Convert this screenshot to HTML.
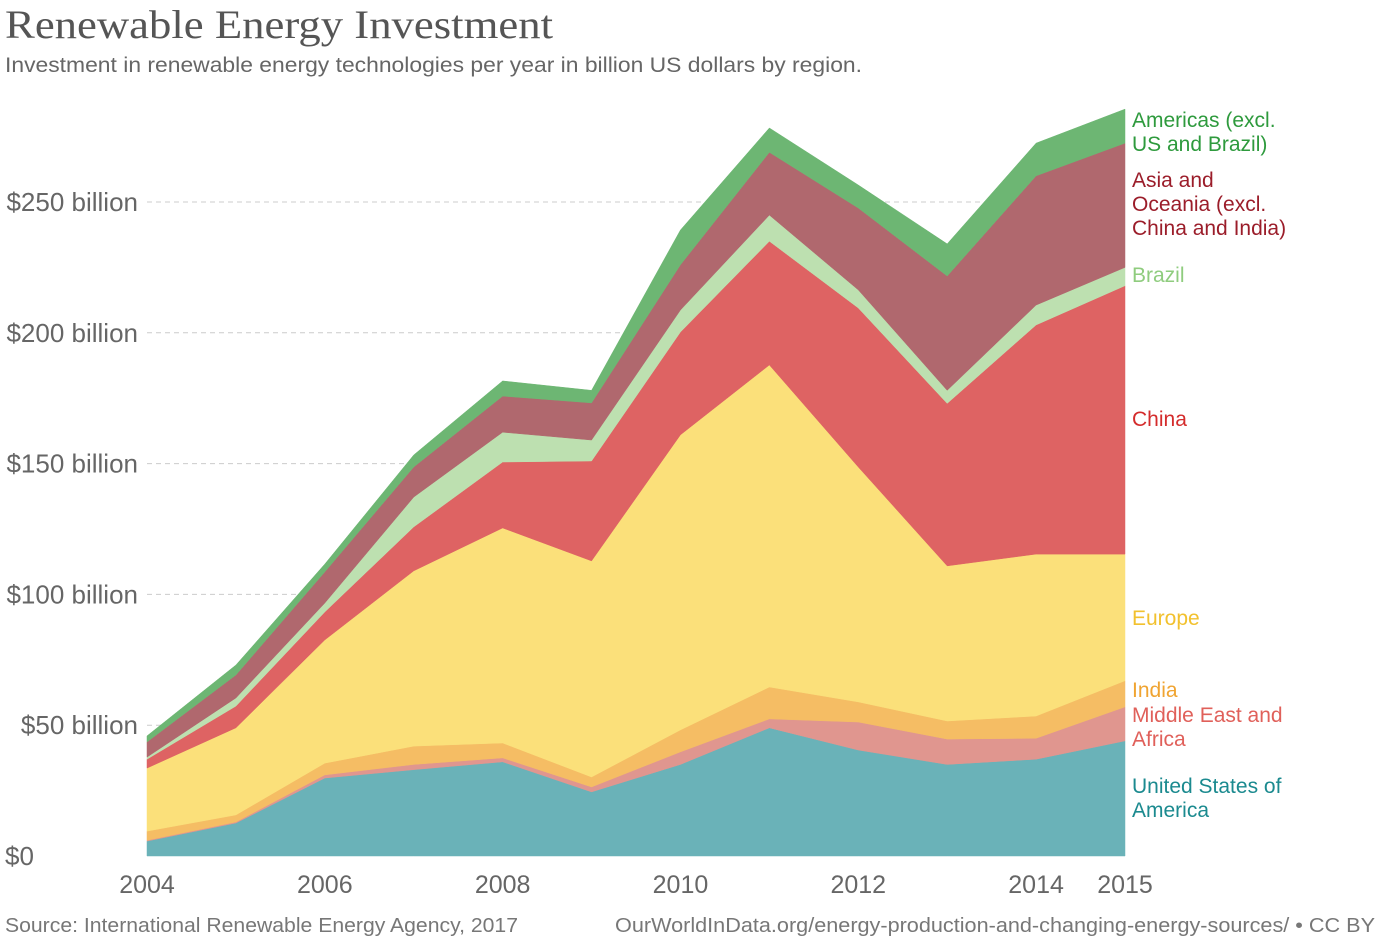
<!DOCTYPE html>
<html><head><meta charset="utf-8"><style>
body{margin:0;background:#fff;width:1375px;height:942px;overflow:hidden;font-family:"Liberation Sans",sans-serif}
</style></head><body>
<svg id="chart" width="1375" height="942" xmlns="http://www.w3.org/2000/svg" font-family="Liberation Sans, sans-serif">
<text x="5" y="38" font-family="Liberation Serif, serif" font-size="40" fill="#555" textLength="548" lengthAdjust="spacingAndGlyphs">Renewable Energy Investment</text>
<text x="5" y="72" font-size="21" fill="#666" textLength="857" lengthAdjust="spacingAndGlyphs">Investment in renewable energy technologies per year in billion US dollars by region.</text>
<g id="grid"></g><g id="areas"></g><g id="labels"></g>
<text x="5" y="932" font-size="20" fill="#777" textLength="513" lengthAdjust="spacingAndGlyphs">Source: International Renewable Energy Agency, 2017</text>
<text x="615" y="932" font-size="20" fill="#777" textLength="760" lengthAdjust="spacingAndGlyphs">OurWorldInData.org/energy-production-and-changing-energy-sources/ • CC BY</text>
</svg>
<script>
const years=[2004,2005,2006,2007,2008,2009,2010,2011,2012,2013,2014,2015];
const usa=[5.7,12.6,29.8,33,36,24.5,35,49,40.5,35,37,44];
const mea=[0.3,0.4,1.2,2,1.5,1.9,4.8,3.4,10.7,9.7,8,13];
const india=[3.5,2.7,4.5,7,5.7,3.8,8.4,12.2,7.7,6.9,8.5,10];
const europe=[24.1,33.3,47.1,67,82.2,82.6,112.8,123.1,89.8,59.3,61.9,48.4];
const china=[3.4,8.3,10.7,16.8,25.2,38.2,39.3,47.3,60.8,62.1,87.6,102.6];
const brazil=[0.8,3.1,3.4,11.4,11.4,8,8.4,10,6.9,5,7.6,7];
const asia=[5.8,8.8,11.9,11.5,13.8,14.2,17.3,24,31.3,43.7,49.4,47.5];
const americas=[2.3,3.8,3,4.6,5.8,4.8,13.3,9.3,8.8,12.3,12.5,13];
const yTicks=[0,50,100,150,200,250];
const yTickLabels=["$0","$50 billion","$100 billion","$150 billion","$200 billion","$250 billion"];
const xTicks=[2004,2006,2008,2010,2012,2014,2015];
const NS="http://www.w3.org/2000/svg";
const x=v=>147+(v-2004)*(1125-147)/11;
const y=v=>856-v*(856-202)/250;
function mk(t,a,p){const e=document.createElementNS(NS,t);for(const k in a)e.setAttribute(k,a[k]);p.appendChild(e);return e;}
const grid=document.getElementById('grid');
yTicks.forEach((t,i)=>{
 if(t>0){const l=mk('line',{x1:147,x2:1125,y1:y(t),y2:y(t),stroke:'#ccc','stroke-dasharray':'5,4'},grid);
 
 }
 const tx=mk('text',{x:t===0?5:138,y:y(t)+9,'font-size':26,fill:'#666','text-anchor':t===0?'start':'end'},grid);
 tx.textContent=yTickLabels[i];
 
 
});
xTicks.forEach(t=>{
 const tx=mk('text',{x:x(t),y:893,'font-size':25,fill:'#666','text-anchor':'middle'},grid);
 tx.textContent=t;
 
 
});
const series=[
 {n:'usa',d:usa,c:'#6ab2b8',lc:'#1b8a8f',lab:['United States of','America'],ly:793},
 {n:'middle-east-africa',d:mea,c:'#e0968f',lc:'#e0605a',lab:['Middle East and','Africa'],ly:722},
 {n:'india',d:india,c:'#f5bd64',lc:'#f0a431',lab:['India'],ly:697},
 {n:'europe',d:europe,c:'#fbe07a',lc:'#f2c12e',lab:['Europe'],ly:625},
 {n:'china',d:china,c:'#de6363',lc:'#d42c2c',lab:['China'],ly:426},
 {n:'brazil',d:brazil,c:'#bde0b0',lc:'#8fcc7e',lab:['Brazil'],ly:282},
 {n:'asia-oceania',d:asia,c:'#b0686e',lc:'#9b1d2a',lab:['Asia and','Oceania (excl.','China and India)'],ly:187},
 {n:'americas',d:americas,c:'#6db673',lc:'#2e9a3d',lab:['Americas (excl.','US and Brazil)'],ly:127}
];
const areas=document.getElementById('areas'),labels=document.getElementById('labels');
let base=years.map(()=>0);
series.forEach(s=>{
 const top=base.map((b,i)=>b+s.d[i]);
 let p='M'+years.map((yr,i)=>x(yr)+','+y(top[i])).join('L');
 for(let i=years.length-1;i>=0;i--)p+='L'+x(years[i])+','+y(base[i]);
 p+='Z';
 const a=mk('path',{d:p,fill:s.c,stroke:s.c,'stroke-width':0.5},areas);
 
 
 const tx=mk('text',{x:1132,y:s.ly,'font-size':21,fill:s.lc},labels);
 
 
 s.lab.forEach((l,k)=>{const ts=mk('tspan',{x:1132,dy:k?24:0},tx);ts.textContent=l;});
 base=top;
});
</script>
</body></html>
